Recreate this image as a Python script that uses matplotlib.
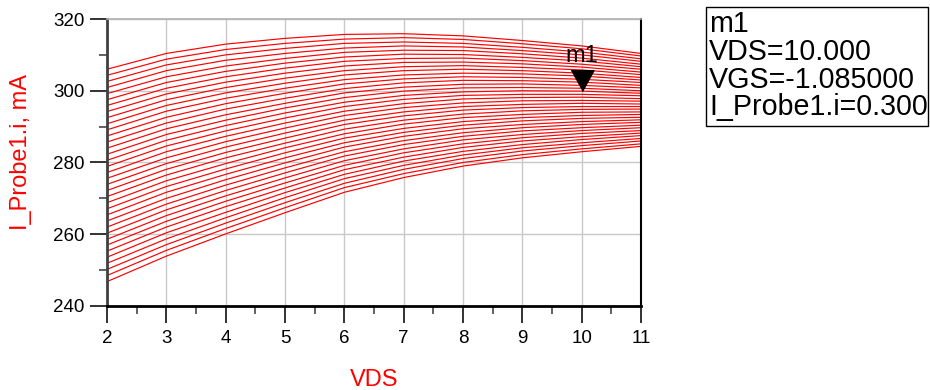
import matplotlib
matplotlib.use('Agg')
import matplotlib.pyplot as plt
from matplotlib.patches import Rectangle
from matplotlib.ticker import MultipleLocator

plt.rcParams['font.family'] = ['Liberation Sans', 'DejaVu Sans']

##drain voltage sweep points
vds = [2, 3, 4, 5, 6, 7, 8, 9, 10, 11]

##I_Probe1.i in mA, one row per VGS step (lowest curve first)
ids_ma = [
    [246.8, 253.9, 260.1, 266.0, 271.7, 275.8, 279.0, 281.3, 283.0, 284.5],
    [248.5, 255.5, 261.6, 267.4, 273.0, 276.9, 280.0, 282.2, 283.8, 285.2],
    [250.2, 257.1, 263.1, 268.8, 274.2, 278.1, 281.1, 283.2, 284.7, 286.0],
    [251.9, 258.7, 264.6, 270.2, 275.5, 279.2, 282.1, 284.1, 285.5, 286.7],
    [253.6, 260.4, 266.1, 271.6, 276.7, 280.4, 283.1, 285.0, 286.4, 287.5],
    [255.3, 262.0, 267.7, 272.9, 278.0, 281.5, 284.2, 286.0, 287.2, 288.2],
    [257.0, 263.6, 269.2, 274.3, 279.2, 282.7, 285.2, 286.9, 288.1, 288.9],
    [258.6, 265.2, 270.7, 275.7, 280.5, 283.8, 286.3, 287.8, 288.9, 289.7],
    [260.3, 266.8, 272.2, 277.1, 281.8, 285.0, 287.3, 288.8, 289.7, 290.4],
    [262.0, 268.4, 273.7, 278.5, 283.0, 286.1, 288.3, 289.7, 290.6, 291.2],
    [263.7, 270.0, 275.2, 279.9, 284.3, 287.3, 289.4, 290.6, 291.4, 291.9],
    [265.4, 271.7, 276.7, 281.3, 285.5, 288.4, 290.4, 291.6, 292.3, 292.6],
    [267.1, 273.3, 278.2, 282.7, 286.8, 289.5, 291.4, 292.5, 293.1, 293.4],
    [268.8, 274.9, 279.7, 284.1, 288.0, 290.7, 292.5, 293.4, 294.0, 294.1],
    [270.5, 276.5, 281.3, 285.4, 289.3, 291.8, 293.5, 294.4, 294.8, 294.9],
    [272.2, 278.1, 282.8, 286.8, 290.6, 293.0, 294.6, 295.3, 295.6, 295.6],
    [273.9, 279.7, 284.3, 288.2, 291.8, 294.1, 295.6, 296.2, 296.5, 296.3],
    [275.6, 281.3, 285.8, 289.6, 293.1, 295.3, 296.6, 297.2, 297.3, 297.1],
    [277.2, 283.0, 287.3, 291.0, 294.3, 296.4, 297.7, 298.1, 298.2, 297.8],
    [278.9, 284.6, 288.8, 292.4, 295.6, 297.6, 298.7, 299.0, 299.0, 298.6],
    [280.6, 286.2, 290.3, 293.8, 296.8, 298.7, 299.7, 300.0, 299.9, 299.3],
    [282.3, 287.8, 291.8, 295.2, 298.1, 299.9, 300.8, 300.9, 300.7, 300.0],
    [284.0, 289.4, 293.3, 296.5, 299.4, 301.0, 301.8, 301.9, 301.5, 300.8],
    [285.7, 291.0, 294.9, 297.9, 300.6, 302.2, 302.9, 302.8, 302.4, 301.5],
    [287.4, 292.6, 296.4, 299.3, 301.9, 303.3, 303.9, 303.7, 303.2, 302.3],
    [289.1, 294.3, 297.9, 300.7, 303.1, 304.4, 304.9, 304.7, 304.1, 303.0],
    [290.8, 295.9, 299.4, 302.1, 304.4, 305.6, 306.0, 305.6, 304.9, 303.7],
    [292.5, 297.5, 300.9, 303.5, 305.6, 306.7, 307.0, 306.5, 305.8, 304.5],
    [294.2, 299.1, 302.4, 304.9, 306.9, 307.9, 308.0, 307.5, 306.6, 305.2],
    [295.9, 300.7, 303.9, 306.3, 308.2, 309.0, 309.1, 308.4, 307.4, 306.0],
    [297.5, 302.3, 305.4, 307.7, 309.4, 310.2, 310.1, 309.3, 308.3, 306.7],
    [299.2, 303.9, 306.9, 309.0, 310.7, 311.3, 311.2, 310.3, 309.1, 307.4],
    [300.9, 305.6, 308.5, 310.4, 311.9, 312.5, 312.2, 311.2, 310.0, 308.2],
    [302.6, 307.2, 310.0, 311.8, 313.2, 313.6, 313.2, 312.1, 310.8, 308.9],
    [304.3, 308.8, 311.5, 313.2, 314.4, 314.8, 314.3, 313.1, 311.7, 309.7],
    [306.0, 310.4, 313.0, 314.6, 315.7, 315.9, 315.3, 314.0, 312.5, 310.4],
]

##marker m1
m1_vds = 10.0
m1_ids = 300.0
m1_lines = ['m1', 'VDS=10.000', 'VGS=-1.085000', 'I_Probe1.i=0.300']

fig = plt.figure(figsize=(9.3, 3.9), dpi=100)
ax = fig.add_axes([107 / 930.0, 1 - 306 / 390.0, 534 / 930.0, 287 / 390.0])

for curve in ids_ma:
    ax.plot(vds, curve, color='red', linewidth=0.85, antialiased=True)

ax.set_xlim(2, 11)
ax.set_ylim(240, 320)
ax.xaxis.set_major_locator(MultipleLocator(1))
ax.xaxis.set_minor_locator(MultipleLocator(0.5))
ax.yaxis.set_major_locator(MultipleLocator(20))
ax.yaxis.set_minor_locator(MultipleLocator(10))
ax.grid(True, which='major', color='#c8c8c8', linewidth=1.0)
ax.set_axisbelow(True)

ax.tick_params(which='major', direction='out', length=12, width=1.3, color='#222222',
               labelsize=13.5, pad=4)
ax.tick_params(which='minor', direction='out', length=6, width=1.3, color='#555555')
ax.tick_params(axis='x', which='major', pad=5)

ax.spines['left'].set_color('#404040')
ax.spines['left'].set_linewidth(2.0)
ax.spines['bottom'].set_color('black')
ax.spines['bottom'].set_linewidth(2.0)
ax.spines['top'].set_color('#b0b0b0')
ax.spines['top'].set_linewidth(1.2)
ax.spines['right'].set_color('black')
ax.spines['right'].set_linewidth(1.5)

ax.set_xlabel('VDS', color='red', fontsize=17, labelpad=16)
ax.set_ylabel('I_Probe1.i, mA', color='red', fontsize=17)
ax.yaxis.set_label_coords(-0.14, 0.535)

##downward triangle with its tip on the marker point
ax.plot(m1_vds, m1_ids, linestyle='none', color='black', markersize=30,
        marker=[(-1.1, 2.0), (1.1, 2.0), (0.0, 0.0)], clip_on=False)
ax.annotate('m1', xy=(m1_vds, m1_ids), xytext=(0, 17), textcoords='offset points',
            ha='center', va='bottom', fontsize=17)

##marker readout box
fig.patches.append(Rectangle((706 / 930.0, 1 - 126 / 390.0), 222 / 930.0, 119 / 390.0,
                             transform=fig.transFigure, fill=False,
                             edgecolor='black', linewidth=1.0))
baseline = 32.5
for line in m1_lines:
    fig.text(709 / 930.0, 1 - baseline / 390.0, line, fontsize=20.6,
             ha='left', va='baseline')
    baseline = baseline + 27.5

fig.savefig('out.png', dpi=100)
